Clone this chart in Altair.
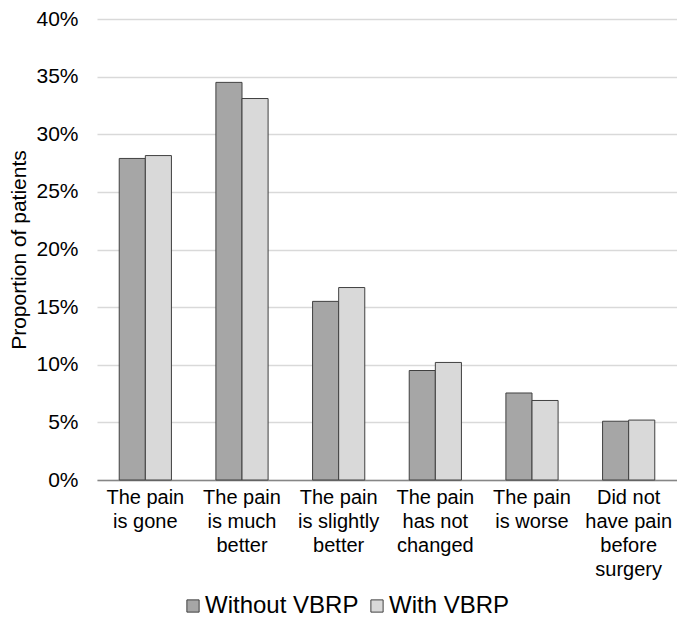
import altair as alt
import pandas as pd

categories = ["The pain|is gone", "The pain|is much|better", "The pain|is slightly|better",
              "The pain|has not|changed", "The pain|is worse", "Did not|have pain|before|surgery"]
series = ["Without VBRP", "With VBRP"]
without_vbrp = [0.279, 0.345, 0.155, 0.095, 0.0755, 0.051]
with_vbrp = [0.2815, 0.331, 0.167, 0.102, 0.069, 0.052]

rows = []
for c, a, b in zip(categories, without_vbrp, with_vbrp):
    rows.append({"cat": c, "series": series[0], "value": a})
    rows.append({"cat": c, "series": series[1], "value": b})
df = pd.DataFrame(rows)

FONT = "Liberation Sans"

chart = alt.Chart(df).mark_bar(stroke="#404040", strokeWidth=1).encode(
    x=alt.X("cat:N", sort=categories, title=None,
            scale=alt.Scale(paddingInner=0.46, paddingOuter=0.23),
            axis=alt.Axis(labelAngle=0, labelExpr="split(datum.label, '|')",
                          labelFont=FONT, labelFontSize=20, labelColor="#000000",
                          labelLineHeight=24, labelPadding=7, ticks=False,
                          domainColor="#868686", domainWidth=1.5, grid=False,
                          labelBaseline="top", labelLimit=0)),
    xOffset=alt.XOffset("series:N", sort=series),
    y=alt.Y("value:Q", title="Proportion of patients",
            scale=alt.Scale(domain=[0, 0.4]),
            axis=alt.Axis(format=".0%", values=[0, 0.05, 0.1, 0.15, 0.2, 0.25, 0.3, 0.35, 0.4],
                          labelFont=FONT, labelFontSize=21, labelColor="#000000",
                          labelPadding=19, ticks=False, domain=False,
                          gridColor="#d9d9d9", gridWidth=1.5,
                          titleFont=FONT, titleFontSize=21, titleFontWeight="normal",
                          titleColor="#000000", titlePadding=6)),
    color=alt.Color("series:N", sort=series,
                    scale=alt.Scale(domain=series, range=["#a6a6a6", "#d9d9d9"]),
                    legend=alt.Legend(title=None, orient="none", direction="horizontal",
                                      legendX=84, legendY=575,
                                      symbolType="square", symbolSize=150,
                                      symbolStrokeColor="#404040", symbolStrokeWidth=1,
                                      labelFont=FONT, labelFontSize=24, labelColor="#000000",
                                      columnPadding=6, labelOffset=0, labelLimit=0)),
).properties(
    width=580, height=461,
    padding={"left": 89, "top": 11, "right": 0, "bottom": 140},
    autosize=alt.AutoSizeParams(type="none"),
).configure_view(stroke=None)

chart.save("out.html", embed_options={"renderer": "svg", "actions": False})
